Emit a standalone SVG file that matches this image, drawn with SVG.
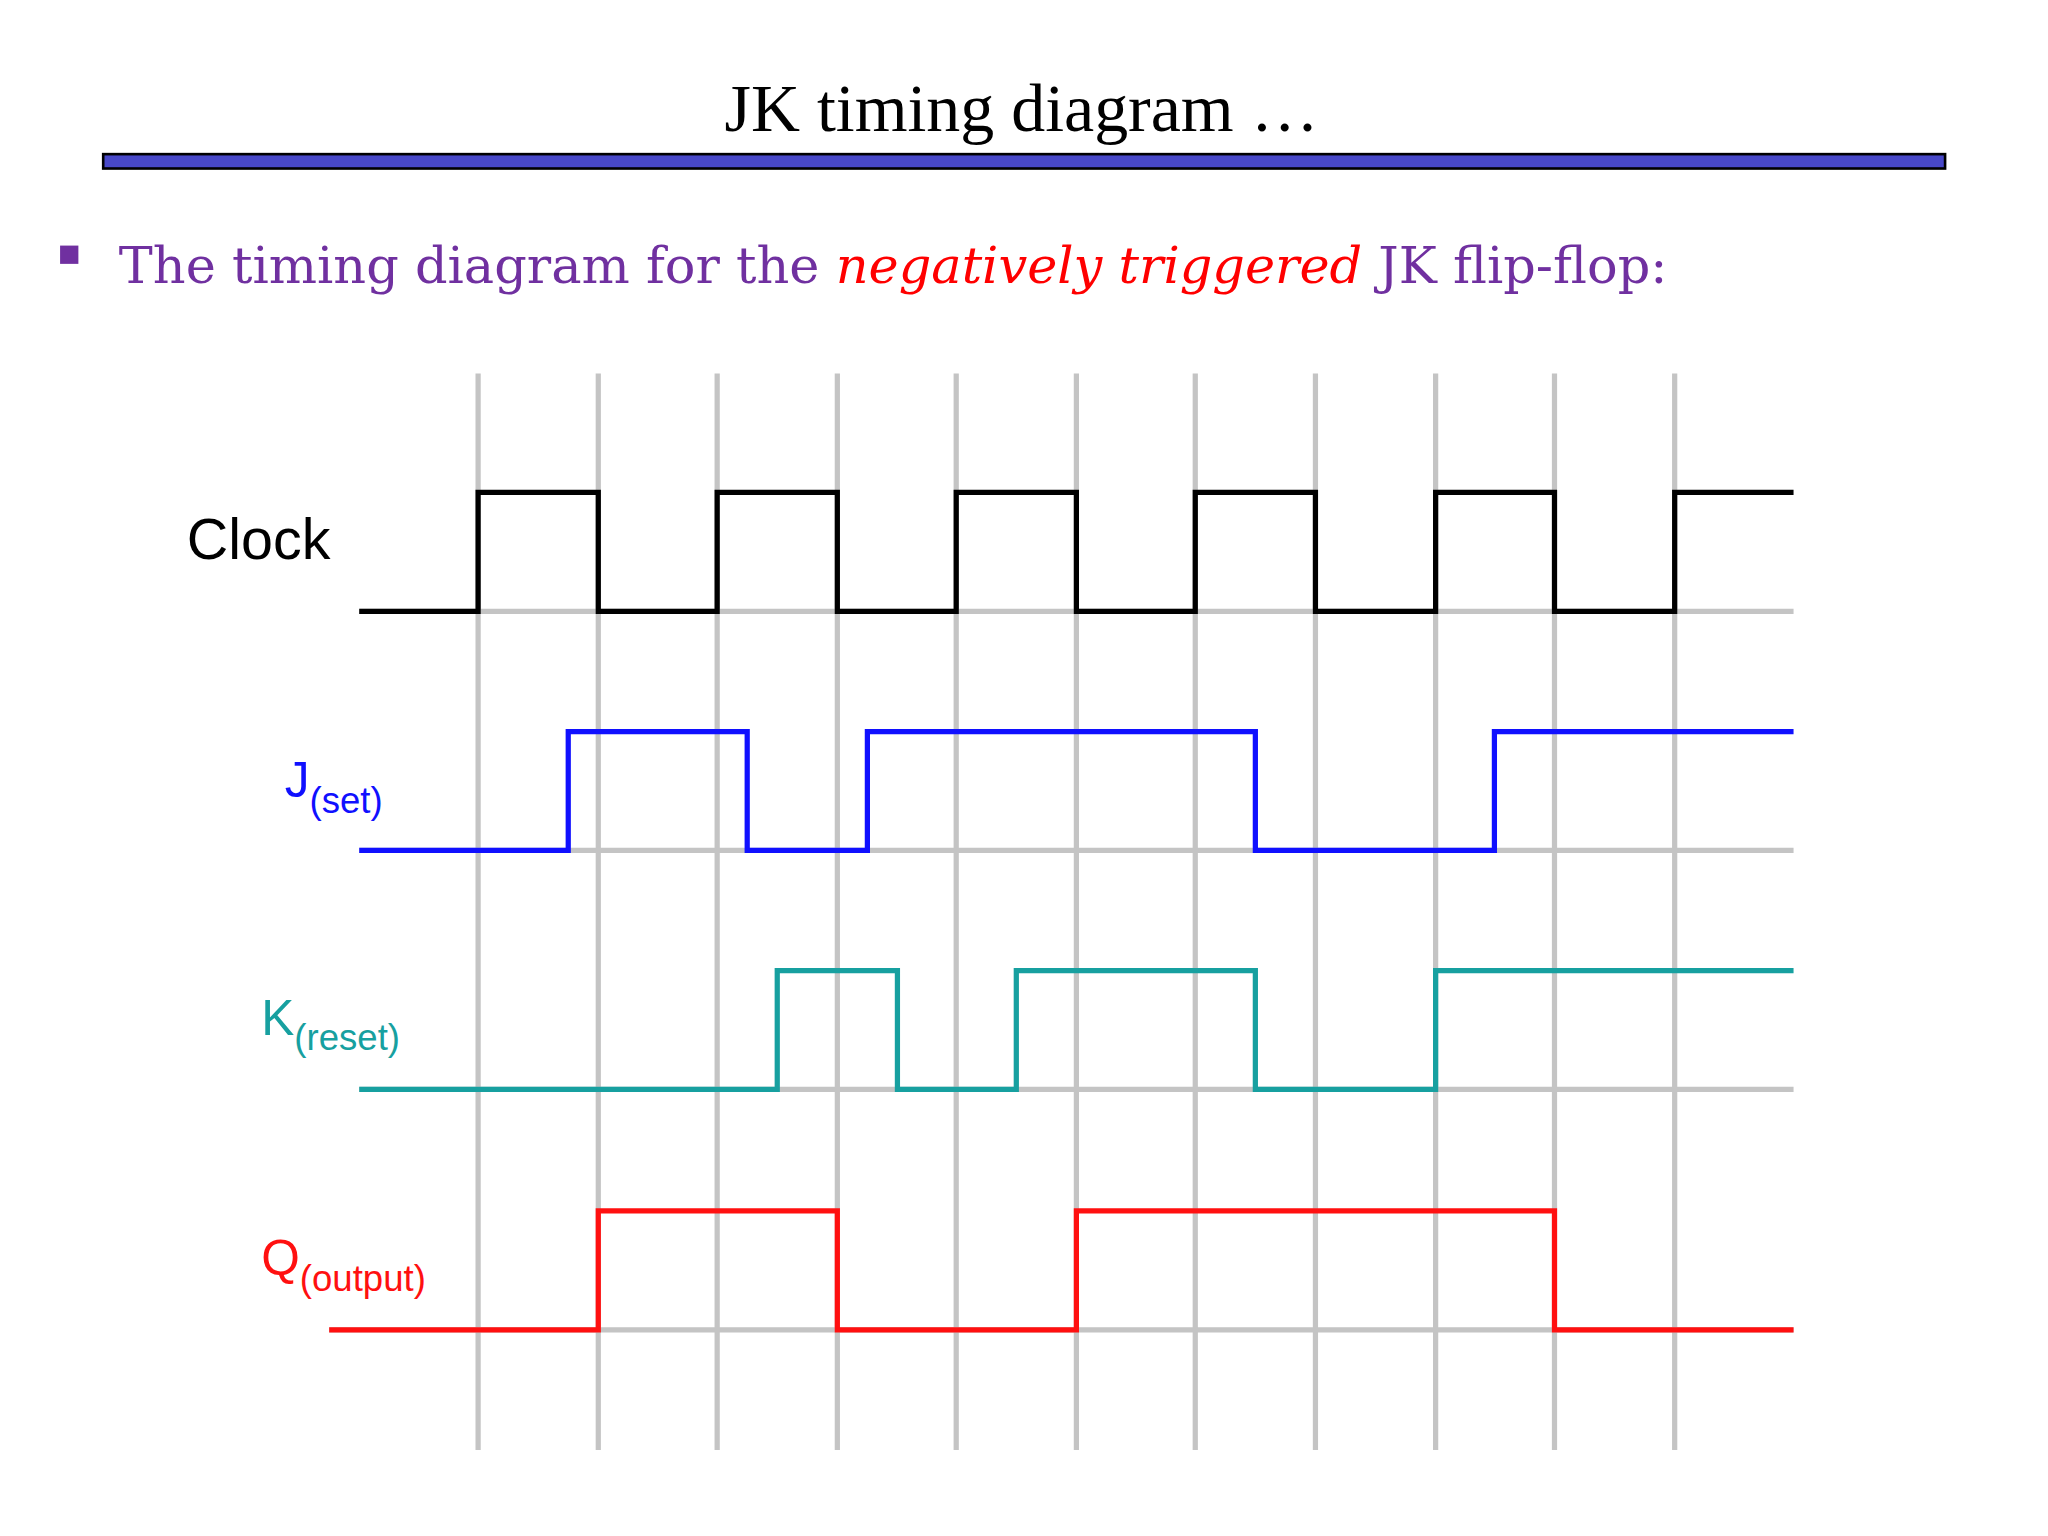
<svg xmlns="http://www.w3.org/2000/svg" width="2048" height="1536" viewBox="0 0 2048 1536">
<style>
.grid{stroke:#c4c4c4;stroke-width:4;fill:none}
.sig{fill:none;stroke-width:4;stroke-linejoin:miter}
.lbl{font-family:"Liberation Sans",Arial,sans-serif}
</style>
<rect width="2048" height="1536" fill="#fff"/>
<g transform="scale(1.3063)">
<g id="title">
<text x="782" y="100" text-anchor="middle" font-family="Liberation Serif,serif" font-size="52">JK timing diagram …</text>
<rect x="79" y="118" width="1410" height="11" fill="#4848c8" stroke="#000" stroke-width="2"/>
</g>
<g id="subtitle">
<rect x="46" y="188" width="14" height="14" fill="#7030a0"/>
<text x="91" y="217" font-family="DejaVu Serif,serif" font-size="39" fill="#7030a0">The timing diagram for the <tspan fill="#ff0000" font-style="italic">negatively triggered</tspan> JK flip-flop:</text>
</g>
<g id="grid" class="grid">
<path d="M366 286V1110M458 286V1110M549 286V1110M641 286V1110M732 286V1110M824 286V1110M915 286V1110M1007 286V1110M1099 286V1110M1190 286V1110M1282 286V1110"/>
<path d="M275 468H1373M275 651H1373M275 834H1373M252 1018H1373"/>
</g>
<g id="connectors">
<path id="clock" class="sig" stroke="#000" d="M275 468H366V377H458V468H549V377H641V468H732V377H824V468H915V377H1007V468H1099V377H1190V468H1282V377H1373"/>
<path id="j" class="sig" stroke="#1010ff" d="M275 651H435V560H572V651H664V560H961V651H1144V560H1373"/>
<path id="k" class="sig" stroke="#17a0a0" d="M275 834H595V743H687V834H778V743H961V834H1099V743H1373"/>
<path id="q" class="sig" stroke="#ff1010" d="M252 1018H458V927H641V1018H824V927H1190V1018H1373"/>
</g>
<g id="labels" class="lbl">
<text x="143" y="428" font-size="44" fill="#000">Clock</text>
<text x="218" y="610" font-size="38" fill="#1010ff">J<tspan font-size="28" dy="12">(set)</tspan></text>
<text x="200" y="792" font-size="38" fill="#17a0a0">K<tspan font-size="28" dy="12">(reset)</tspan></text>
<text x="200" y="976" font-size="38" fill="#ff1010">Q<tspan font-size="28" dy="12">(output)</tspan></text>
</g>
</g>
</svg>
